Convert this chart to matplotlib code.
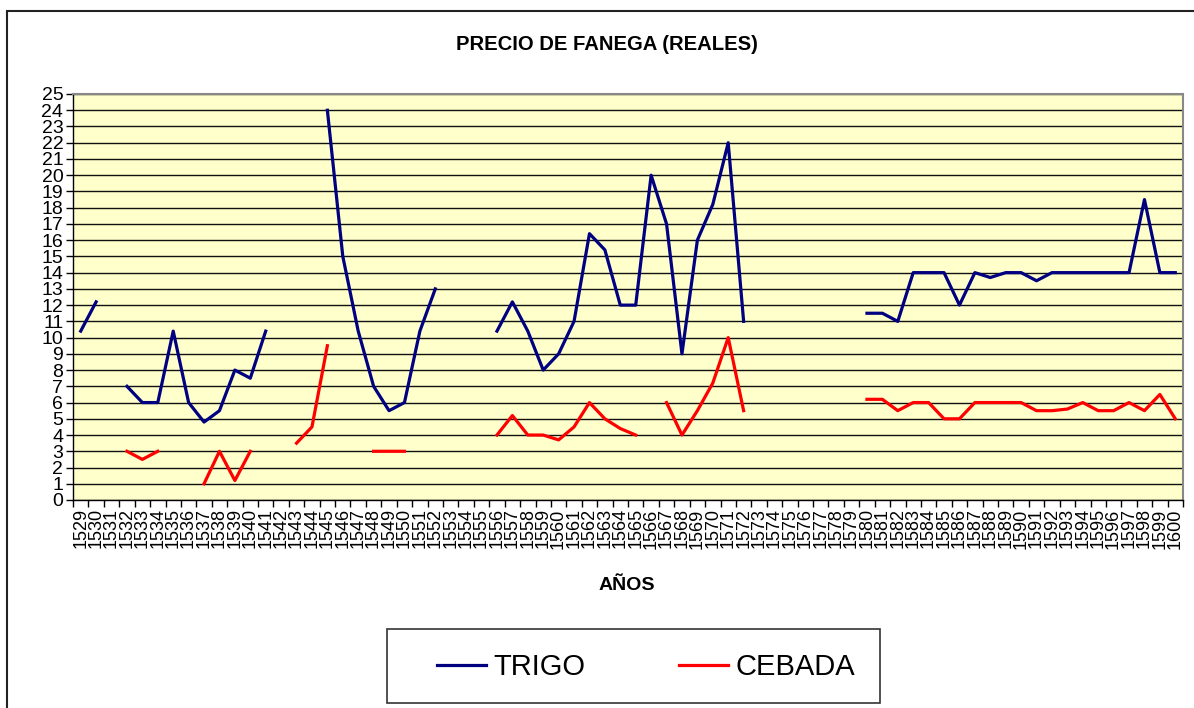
import numpy as np
import matplotlib
matplotlib.use('Agg')
import matplotlib.pyplot as plt
from matplotlib.patches import Rectangle

plt.rcParams['font.family'] = ['Liberation Sans', 'DejaVu Sans']

nan = np.nan

# years on the category axis
years = [str(y) for y in range(1529, 1601)]

# price of a fanega of wheat (reales), gaps where no data
trigo = [10.4, 12.2, nan, 7, 6, 6, 10.4, 6, 4.8, 5.5, 8, 7.5, 10.4,
         nan, nan, nan, 24, 15, 10.4, 7, 5.5, 6, 10.4, 13,
         nan, nan, nan, 10.4, 12.2, 10.4, 8, 9, 11, 16.4, 15.4, 12, 12,
         20, 17, 9, 16, 18.2, 22, 11,
         nan, nan, nan, nan, nan, nan, nan,
         11.5, 11.5, 11, 14, 14, 14, 12, 14, 13.7, 14, 14, 13.5, 14,
         14, 14, 14, 14, 14, 18.5, 14, 14]

# price of a fanega of barley (reales)
cebada = [nan, nan, nan, 3, 2.5, 3, nan, nan, 1, 3, 1.2, 3,
          nan, nan, 3.5, 4.5, 9.5, nan, nan, 3, 3, 3,
          nan, nan, nan, nan, nan,
          4, 5.2, 4, 4, 3.7, 4.5, 6, 5, 4.4, 4,
          nan, 6, 4, 5.5, 7.2, 10, 5.5,
          nan, nan, nan, nan, nan, nan, nan,
          6.2, 6.2, 5.5, 6, 6, 5, 5, 6, 6, 6, 6, 5.5, 5.5,
          5.6, 6, 5.5, 5.5, 6, 5.5, 6.5, 5]

x = np.arange(len(years))

W, H = 1194, 708
fig = plt.figure(figsize=(W / 100, H / 100), dpi=100)
ax = fig.add_axes([73 / W, 1 - 500 / H, (1183 - 73) / W, (500 - 94) / H])

# outer chart frame (runs off the right and bottom edges)
fig.patches.append(Rectangle((7 / W, -0.1), 1.2, (H - 11) / H + 0.1,
                             transform=fig.transFigure, fill=False,
                             edgecolor='#222222', linewidth=1.5, clip_on=False))

ax.set_facecolor('#FFFFCC')
ax.plot(x, trigo, color='#000080', linewidth=2.3, label='TRIGO')
ax.plot(x, cebada, color='#FF0000', linewidth=2.3, label='CEBADA')

ax.set_xlim(-0.5, len(years) - 0.5)
ax.set_ylim(0, 25)

# horizontal gridlines at every unit
ax.set_yticks(range(0, 26))
ax.yaxis.grid(True, color='#111111', linewidth=1)
ax.set_axisbelow(True)
ax.tick_params(axis='y', direction='out', length=5, width=1, labelsize=14, pad=2)

# category labels at centres, tick marks between categories
ax.set_xticks(x)
ax.set_xticklabels(years, rotation=90, fontsize=13)
ax.tick_params(axis='x', which='major', length=0, pad=6)
ax.set_xticks(np.arange(-0.5, len(years)), minor=True)
ax.tick_params(axis='x', which='minor', direction='out', length=5, width=1)

for side in ['top', 'right']:
    ax.spines[side].set_color('#888888')
    ax.spines[side].set_linewidth(1.5)
for side in ['left', 'bottom']:
    ax.spines[side].set_color('black')
    ax.spines[side].set_linewidth(1)

fig.text(607 / W, 1 - 45 / H, 'PRECIO DE FANEGA (REALES)', ha='center', va='center',
         fontsize=14.6, fontweight='bold')
fig.text(627 / W, 1 - 585 / H, 'AÑOS', ha='center', va='center',
         fontsize=14, fontweight='bold')

# legend box drawn separately so the padding matches
fig.patches.append(Rectangle((387 / W, 1 - 703 / H), (880 - 387) / W, (703 - 629) / H,
                             transform=fig.transFigure, facecolor='white',
                             edgecolor='#333333', linewidth=1.2))
fig.legend(loc='center', bbox_to_anchor=(646 / W, 1 - 667 / H), ncol=2,
           fontsize=21, frameon=False, handlelength=1.7, handletextpad=0.25,
           columnspacing=3.2, borderpad=0, borderaxespad=0)

plt.savefig('out.png', dpi=100)
